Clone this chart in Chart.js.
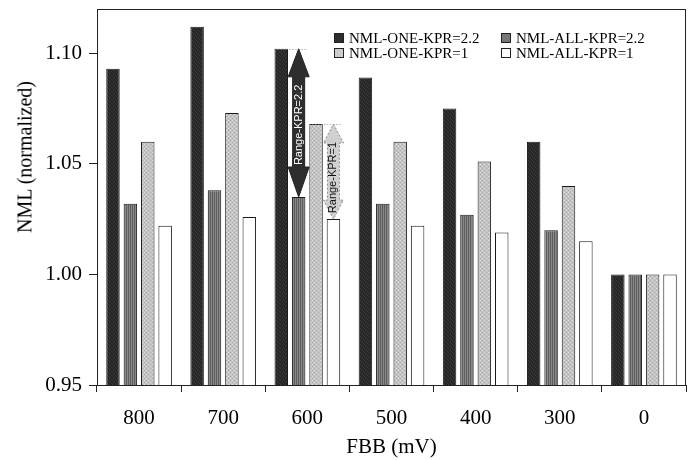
<!DOCTYPE html>
<html>
<head>
<meta charset="utf-8">
<script src="https://cdn.jsdelivr.net/npm/chart.js@4.4.1/dist/chart.umd.min.js"></script>
<style>
  html, body { margin:0; padding:0; background:#fff; }
  #wrap { position:relative; width:691px; height:460px; }
  #c { position:absolute; left:0; top:0; }
  .ytitle { position:absolute; left:25px; top:157px; transform:translate(-50%,-50%) rotate(-90deg);
            font-family:"Liberation Serif", "Times New Roman", serif; font-size:20px; color:#000; white-space:nowrap; }
  .leg { position:absolute; font-family:"Liberation Serif", "Times New Roman", serif; font-size:15px; color:#000; white-space:nowrap; line-height:15px; }
  .leg span.sw { display:inline-block; width:8px; height:8px; border:1px solid #222; margin-right:5px; vertical-align:0px; }
</style>
</head>
<body>
<div id="wrap">
  <canvas id="c" width="691" height="460"></canvas>
  <div class="ytitle" id="ytitle"></div>
  <div id="legend"></div>
</div>
<script>
const categories = ['800', '700', '600', '500', '400', '300', '0'];
const oneKpr22 = [1.093, 1.112, 1.102, 1.089, 1.075, 1.060, 1.000];
const allKpr22 = [1.032, 1.038, 1.035, 1.032, 1.027, 1.020, 1.000];
const oneKpr1  = [1.060, 1.073, 1.068, 1.060, 1.051, 1.040, 1.000];
const allKpr1  = [1.022, 1.026, 1.025, 1.022, 1.019, 1.015, 1.000];
const seriesLabels = ['NML-ONE-KPR=2.2', 'NML-ALL-KPR=2.2', 'NML-ONE-KPR=1', 'NML-ALL-KPR=1'];
const yTicks = [0.95, 1.00, 1.05, 1.10];
const yMin = 0.95, yMax = 1.12;
const xTitle = 'FBB (mV)';
const yTitle = 'NML (normalized)';
const rangeLabels = ['Range-KPR=2.2', 'Range-KPR=1'];
const rangeCategory = 2;

function makePattern(kind) {
  const c = document.createElement('canvas');
  c.width = 4; c.height = 4;
  const g = c.getContext('2d');
  if (kind === 'dark') {
    g.fillStyle = '#262626'; g.fillRect(0,0,4,4);
    g.fillStyle = '#3c3c3c';
    g.fillRect(0,0,1,1); g.fillRect(2,1,1,1); g.fillRect(1,2,1,1); g.fillRect(3,3,1,1);
  } else if (kind === 'stripe') {
    g.fillStyle = '#888888'; g.fillRect(0,0,4,4);
    g.fillStyle = '#5e5e5e'; g.fillRect(0,0,1,4); g.fillRect(2,0,1,4);
  } else if (kind === 'light') {
    g.fillStyle = '#c4c4c4'; g.fillRect(0,0,4,4);
    g.fillStyle = '#e0e0e0'; g.fillRect(0,0,1,1); g.fillRect(2,2,1,1);
    g.fillStyle = '#a8a8a8'; g.fillRect(2,0,1,1); g.fillRect(0,2,1,1);
  }
  return g.createPattern(c, 'repeat');
}

const fills = [makePattern('dark'), makePattern('stripe'), makePattern('light'), '#ffffff'];
const swatchCss = ['#2e2e2e', '#777777', '#cccccc', '#ffffff'];
const seriesData = [oneKpr22, allKpr22, oneKpr1, allKpr1];

document.getElementById('ytitle').textContent = yTitle;

// HTML legend (2 columns)
const legPos = [[334, 31], [501, 31], [334, 46], [501, 46]];
const legEl = document.getElementById('legend');
seriesLabels.forEach((lab, i) => {
  const d = document.createElement('div');
  d.className = 'leg';
  d.style.left = legPos[i][0] + 'px';
  d.style.top = legPos[i][1] + 'px';
  const sw = document.createElement('span');
  sw.className = 'sw';
  sw.style.background = swatchCss[i];
  d.appendChild(sw);
  d.appendChild(document.createTextNode(lab));
  legEl.appendChild(d);
});

function drawArrow(ctx, x, yTop, yBot, headW, shaftW, hT, hB) {
  ctx.beginPath();
  ctx.moveTo(x, yTop);
  ctx.lineTo(x + headW/2, yTop + hT);
  ctx.lineTo(x + shaftW/2, yTop + hT);
  ctx.lineTo(x + shaftW/2, yBot - hB);
  ctx.lineTo(x + headW/2, yBot - hB);
  ctx.lineTo(x, yBot);
  ctx.lineTo(x - headW/2, yBot - hB);
  ctx.lineTo(x - shaftW/2, yBot - hB);
  ctx.lineTo(x - shaftW/2, yTop + hT);
  ctx.lineTo(x - headW/2, yTop + hT);
  ctx.closePath();
}

const frameAndArrows = {
  id: 'frameAndArrows',
  afterDraw(chart) {
    const ctx = chart.ctx;
    const a = chart.chartArea;
    ctx.save();
    ctx.strokeStyle = '#222';
    ctx.lineWidth = 1;
    ctx.strokeRect(Math.round(a.left) + 0.5, Math.round(a.top) + 0.5, Math.round(a.right - a.left) - 1, Math.round(a.bottom - a.top));
    const y = chart.scales.y;
    const m0 = chart.getDatasetMeta(0).data[rangeCategory];
    const m1 = chart.getDatasetMeta(1).data[rangeCategory];
    const m2 = chart.getDatasetMeta(2).data[rangeCategory];
    const m3 = chart.getDatasetMeta(3).data[rangeCategory];
    // dotted reference lines
    ctx.strokeStyle = '#888';
    ctx.setLineDash([1, 2]);
    let yt1 = y.getPixelForValue(oneKpr22[rangeCategory]);
    ctx.beginPath();
    ctx.moveTo(m0.x - m0.width/2, Math.round(yt1) + 0.5);
    ctx.lineTo(m1.x + 9, Math.round(yt1) + 0.5);
    ctx.stroke();
    let yt2 = y.getPixelForValue(oneKpr1[rangeCategory]);
    ctx.beginPath();
    ctx.moveTo(m2.x - m2.width/2, Math.round(yt2) + 0.5);
    ctx.lineTo(m3.x + 8, Math.round(yt2) + 0.5);
    ctx.stroke();
    ctx.setLineDash([]);
    // arrow 1
    let yb1 = y.getPixelForValue(allKpr22[rangeCategory]);
    drawArrow(ctx, m1.x, yt1, yb1, 21, 12, 28, 30);
    ctx.fillStyle = '#2e2e2e';
    ctx.fill();
    ctx.strokeStyle = '#222';
    ctx.stroke();
    // arrow 2
    let yb2 = y.getPixelForValue(allKpr1[rangeCategory]);
    drawArrow(ctx, m3.x, yt2, yb2, 20, 12, 19, 19);
    ctx.fillStyle = '#d0d0d0';
    ctx.fill();
    ctx.strokeStyle = '#888';
    ctx.setLineDash([2, 2]);
    ctx.stroke();
    ctx.setLineDash([]);
    // labels
    ctx.font = '11px "Liberation Sans", Arial, sans-serif';
    ctx.textAlign = 'center';
    ctx.textBaseline = 'middle';
    ctx.save();
    ctx.translate(m1.x, (yt1 + yb1)/2 + 2);
    ctx.rotate(-Math.PI/2);
    ctx.fillStyle = '#fff';
    ctx.fillText(rangeLabels[0], 0, 0);
    ctx.restore();
    ctx.save();
    ctx.translate(m3.x, (yt2 + yb2)/2 + 6);
    ctx.rotate(-Math.PI/2);
    ctx.fillStyle = '#111';
    ctx.fillText(rangeLabels[1], 0, 0);
    ctx.restore();
    ctx.restore();
  }
};

const serif = '"Liberation Serif", "Times New Roman", serif';

new Chart(document.getElementById('c'), {
  type: 'bar',
  data: {
    labels: categories,
    datasets: seriesData.map((d, i) => ({
      label: seriesLabels[i],
      data: d,
      backgroundColor: fills[i],
      borderColor: '#1a1a1a',
      borderWidth: 1,
      borderSkipped: 'start',
      categoryPercentage: 0.827,
      barPercentage: 0.775
    }))
  },
  options: {
    responsive: false,
    animation: false,
    devicePixelRatio: 1,
    layout: { padding: { top: 9, right: 5, left: 0, bottom: 0 } },
    plugins: { legend: { display: false }, tooltip: { enabled: false } },
    scales: {
      x: {
        grid: { display: true, drawOnChartArea: false, tickLength: 7, color: '#222', offset: true },
        border: { display: true, color: '#222' },
        ticks: { font: { family: serif, size: 21 }, color: '#000', padding: 14, maxRotation: 0 },
        title: { display: true, text: xTitle, font: { family: serif, size: 21 }, color: '#000', padding: { top: 0, bottom: 0 } },
        afterFit(s) { s.height = 75; s.paddingLeft = 0; s.paddingRight = 0; }
      },
      y: {
        min: yMin, max: yMax,
        afterBuildTicks(s) { s.ticks = yTicks.map(v => ({ value: v })); },
        grid: { display: true, drawOnChartArea: false, tickLength: 8, color: '#222' },
        border: { display: true, color: '#222' },
        ticks: { font: { family: serif, size: 21 }, color: '#000', padding: 7, callback: v => Number(v).toFixed(2) },
        afterFit(s) { s.width = 97; s.paddingTop = 0; s.paddingBottom = 0; }
      }
    }
  },
  plugins: [frameAndArrows]
});
</script>
</body>
</html>
